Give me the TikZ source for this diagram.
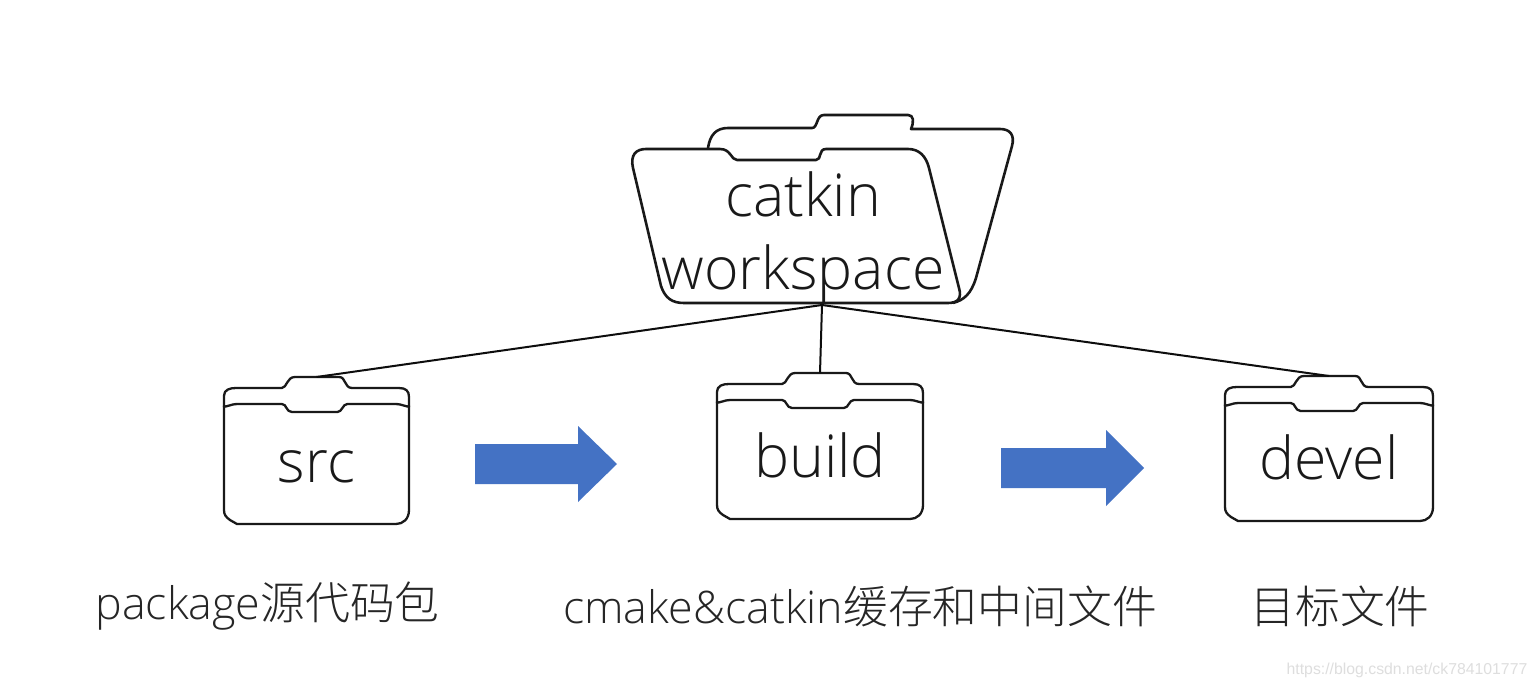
\documentclass[tikz,border=0pt]{standalone}
\usepackage{fontspec}
\setmainfont{Open Sans}
\newfontfamily\lightf{Open Sans Light}
\newfontfamily\cjk{Noto Sans CJK SC Light}
\newfontfamily\wm{Liberation Sans}
\definecolor{arrowblue}{HTML}{4472C4}
\tikzset{
  outline/.style={draw=black!90,line width=2.3pt,line join=round,fill=none},
  link/.style={draw=black!95,line width=2pt},
  flowarrow/.style={fill=arrowblue,draw=none},
  foldertext/.style={font=\lightf\fontsize{59}{62}\selectfont,text=black!90,inner sep=0pt,align=center},
  caption/.style={font=\lightf\fontsize{44.8}{48}\selectfont,text=black!85,inner sep=0pt,anchor=center},
}
% #1 name, #2 left, #3 right, #4 tab top y, #5 bottom y, #6 label y, #7 label
\newcommand{\smallfolder}[7]{%
  \pgfmathsetmacro{\fw}{#3-#2}
  \pgfmathsetmacro{\tl}{#2+0.345*\fw}
  \pgfmathsetmacro{\tr}{#2+0.66*\fw}
  \pgfmathsetmacro{\nl}{#2+0.34*\fw}
  \pgfmathsetmacro{\nr}{#2+0.64*\fw}
  \pgfmathsetmacro{\bk}{#4+11}
  \pgfmathsetmacro{\ft}{#4+27}
  \pgfmathsetmacro{\nt}{#4+35}
  \pgfmathsetmacro{\sd}{#4+30}
  \draw[outline] (#2,\sd) -- (#2,\bk+8) .. controls (#2,\bk+2) and (#2+5,\bk) .. (#2+12,\bk)
    -- (\tl-6,\bk) .. controls (\tl-1,\bk) and (\tl-1,#4) .. (\tl+7,#4)
    -- (\tr-7,#4) .. controls (\tr,#4) and (\tr-2,\bk) .. (\tr+6,\bk)
    -- (#3-10,\bk) .. controls (#3-3,\bk) and (#3,\bk+3) .. (#3,\bk+9) -- (#3,\sd);
  \draw[outline] (#2,\sd-1) .. controls (#2+1,\ft+4) and (#2+6,\ft) .. (#2+14,\ft)
    -- (\nl-5,\ft) .. controls (\nl,\ft) and (\nl-1,\nt) .. (\nl+5,\nt)
    -- (\nr-5,\nt) .. controls (\nr,\nt) and (\nr,\ft) .. (\nr+5,\ft)
    -- (#3-14,\ft) .. controls (#3-6,\ft) and (#3-1,\ft+4) .. (#3,\sd-1)
    -- (#3,#5-14) .. controls (#3,#5-5) and (#3-6,#5) .. (#3-13,#5)
    -- (#2+13,#5) -- (#2+6,#5-4) .. controls (#2+2,#5-7) and (#2,#5-9) .. (#2,#5-14) -- cycle;
  \coordinate (#1top) at ({(#2+#3)/2},#4);
  \node[foldertext] (#1label) at ({(#2+#3)/2},#6) {#7};
}
\begin{document}
\begin{tikzpicture}[x=1pt,y=-1pt]
\useasboundingbox (0,0) rectangle (1537,688);
\fill[white] (0,0) rectangle (1537,688);
% big folder back
\draw[outline,line width=2.6pt] (708,148) .. controls (710,135) and (716,128) .. (728,128) -- (812,128)
  .. controls (818,128) and (816,115) .. (824,115) -- (908,115) .. controls (914,115) and (914,122) .. (911,129)
  -- (1000,129) .. controls (1010,129) and (1015,135) .. (1012,146) -- (976,278)
  .. controls (971,294) and (964,300) .. (953,303);
% big folder front
\draw[outline,line width=2.6pt] (633,168) .. controls (630,155) and (636,149) .. (646,149) -- (720,149)
  .. controls (731,149) and (731,160) .. (737,160) -- (816,160) .. controls (822,160) and (818,149) .. (826,149)
  -- (908,149) .. controls (919,149) and (926,156) .. (929,168) -- (959,288)
  .. controls (962,298) and (958,303) .. (948,303) -- (684,303)
  .. controls (672,303) and (665,298) .. (661,286) -- cycle;
\node[foldertext,text width=320pt] (catkin) at (803,237.5) {catkin\\[11pt]workspace};
\coordinate (hub) at (822,305);
\smallfolder{src}{224}{409}{377}{524}{467}{src}
\smallfolder{build}{717}{923}{373}{519}{455}{build}
\smallfolder{devel}{1225}{1433}{376}{521}{457}{devel}
\draw[link] (hub) -- (srctop);
\draw[link] (hub) -- (buildtop);
\draw[link] (hub) -- (develtop);
\fill[flowarrow] (475,444) -- (578,444) -- (578,426) -- (617,464) -- (578,502) -- (578,484) -- (475,484) -- cycle;
\fill[flowarrow] (1001,448) -- (1106,448) -- (1106,430) -- (1144,468) -- (1106,506) -- (1106,488) -- (1001,488) -- cycle;
\node[caption] (c1) at (267.5,606) {package{\cjk 源代码包}};
\node[caption] (c2) at (860,606) {cmake\&catkin{\cjk 缓存和中间文件}};
\node[caption] (c3) at (1340,606) {\cjk 目标文件};
\node[font=\wm\fontsize{15.8}{18}\selectfont,text=black!13,inner sep=0pt] (mark) at (1407,670) {https://blog.csdn.net/ck784101777};
\end{tikzpicture}
\end{document}
